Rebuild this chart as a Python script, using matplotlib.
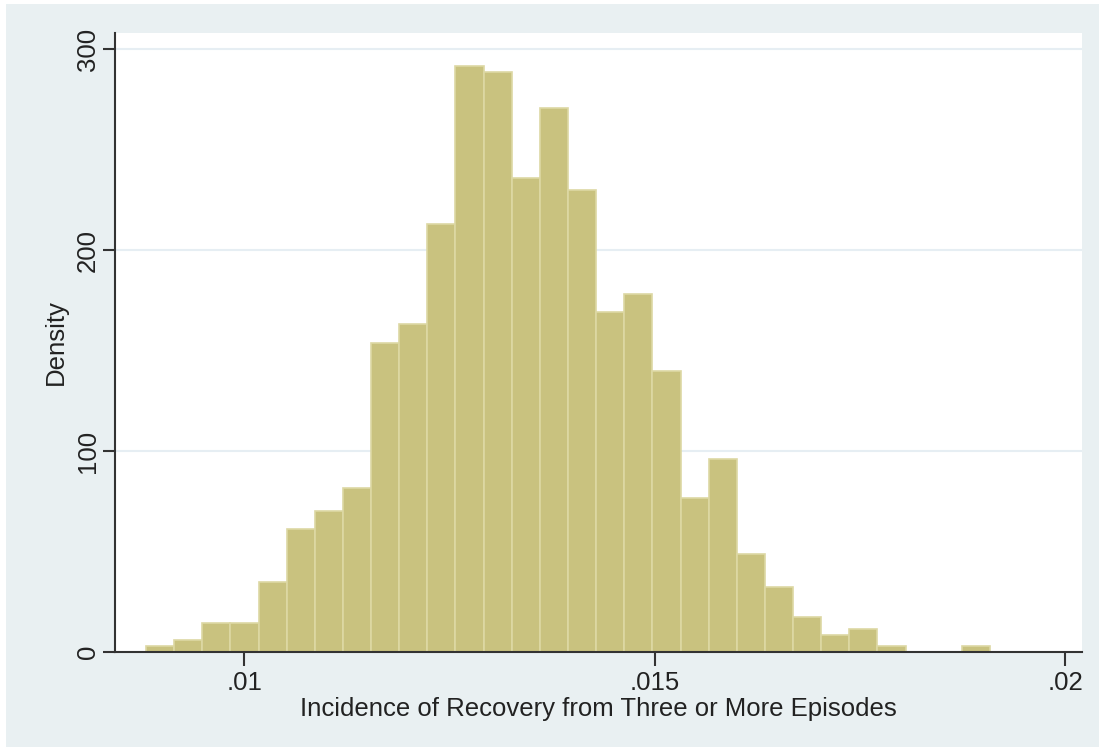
import matplotlib.pyplot as plt
import matplotlib.patches as mpatches
import numpy as np

# histogram of simulated incidence, 30 bins, density scale
bin_start = 0.008805
bin_width = 0.0003427
density = [3, 6, 14.5, 14.5, 35, 61, 70, 81.5, 154, 163,
           213, 291.5, 288.5, 236, 270.5, 230, 169, 178, 140, 76.5,
           96, 49, 32.5, 17.5, 8.5, 11.5, 3, 0, 0, 3]
xticks = [0.01, 0.015, 0.02]
xticklabels = ['.01', '.015', '.02']
yticks = [0, 100, 200, 300]

bar_fill = '#c9c27f'
bar_edge = '#ddd8a4'
region_bg = '#e9f0f2'
grid_col = '#e6eef3'
axis_col = '#333333'

plt.rcParams['font.family'] = ['Liberation Sans', 'DejaVu Sans']

W, H = 1099, 747
fig = plt.figure(figsize=(W / 100, H / 100), dpi=100)
fig.patch.set_facecolor('white')
# graph region, slightly inset from the top-left edge
region = mpatches.Rectangle((6 / W, 0), 1 - 6 / W, 1 - 4 / H,
                            transform=fig.transFigure,
                            facecolor=region_bg, edgecolor='none')
fig.add_artist(region)
region.set_zorder(-10)

ax = fig.add_axes([115 / W, (H - 652) / H, (1082 - 115) / W, (652 - 33) / H])
ax.set_zorder(5)
ax.set_facecolor('white')

lefts = bin_start + bin_width * np.arange(len(density))
ax.bar(lefts, density, width=bin_width, align='edge', color=bar_fill,
       edgecolor=bar_edge, linewidth=1.2, zorder=2)

ax.set_xlim(0.008427, 0.020207)
ax.set_ylim(0, 308)

ax.set_xticks(xticks)
ax.set_xticklabels(xticklabels)
ax.set_yticks(yticks)
ax.set_yticklabels([str(v) for v in yticks], rotation=90, va='center')

for v in yticks[1:]:
    ax.axhline(v, color=grid_col, linewidth=1.5, zorder=1)

for side in ('top', 'right'):
    ax.spines[side].set_visible(False)
for side in ('left', 'bottom'):
    ax.spines[side].set_color(axis_col)
    ax.spines[side].set_linewidth(1.5)

ax.tick_params(axis='both', direction='out', width=1.5, color=axis_col,
               labelsize=18.5, labelcolor='#222222')
ax.tick_params(axis='x', length=10, pad=4)
ax.tick_params(axis='y', length=9, pad=2)

ax.set_xlabel('Incidence of Recovery from Three or More Episodes',
              fontsize=18.5, color='#222222', labelpad=1)
ax.set_ylabel('Density', fontsize=18.5, color='#222222', labelpad=6)

fig.savefig('out.png', dpi=100, facecolor=fig.get_facecolor())
